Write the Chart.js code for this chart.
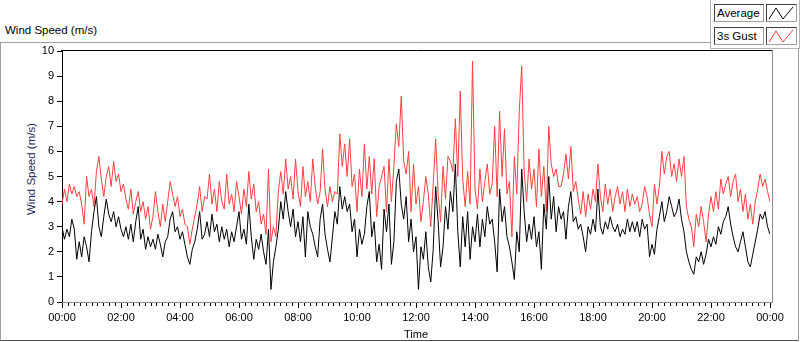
<!DOCTYPE html>
<html><head><meta charset="utf-8">
<script src="https://cdn.jsdelivr.net/npm/chart.js@4.4.1/dist/chart.umd.min.js"></script>
<style>
html,body{margin:0;padding:0;background:#fff;width:800px;height:342px;overflow:hidden;font-family:"Liberation Sans",Arial,sans-serif;}
#frame{position:absolute;left:0;top:42px;width:797px;height:297px;border:1px solid #a0a0a0;border-bottom-color:#505050;}
#ttl{position:absolute;left:5px;top:24px;font-size:11.5px;color:#000;white-space:nowrap;}
#ytitle{position:absolute;left:31px;top:169px;transform:translate(-50%,-50%) rotate(-90deg);font-size:11.5px;color:#1f2a5a;white-space:nowrap;}
#legend{position:absolute;left:710px;top:0;width:88px;height:48px;background:#fff;border-left:1px solid #b4b4b4;border-right:1px solid #b4b4b4;border-bottom:1px solid #b4b4b4;}
.lab{position:absolute;left:3px;width:46px;height:16px;border:1px solid #404040;border-right-color:#a0a0a0;border-bottom-color:#a0a0a0;font-size:11.5px;line-height:16px;padding-left:2px;color:#000;white-space:nowrap;}
.ico{position:absolute;left:55px;width:29px;height:16px;border:1px solid #404040;border-right-color:#a0a0a0;border-bottom-color:#a0a0a0;background:#fff;}
.ico svg{position:absolute;left:0;top:0;}
#c{position:absolute;left:0;top:0;}
</style>
</head><body>
<div id="frame"></div>
<div id="ttl">Wind Speed (m/s)</div>
<div id="ytitle">Wind Speed (m/s)</div>
<canvas id="c" width="800" height="342"></canvas>
<div id="legend">
  <div class="lab" style="top:4px">Average</div>
  <div class="ico" style="top:4px"><svg width="29" height="16"><polyline points="2,14 9,3 16,14 26,2" fill="none" stroke="#000" stroke-width="1"/></svg></div>
  <div class="lab" style="top:27px">3s Gust</div>
  <div class="ico" style="top:27px"><svg width="29" height="16"><polyline points="2,14 9,3 16,14 26,2" fill="none" stroke="#ff4040" stroke-width="1"/></svg></div>
</div>
<script>
// sampling interval of the series (minutes)
const sampleMinutes = 5;
const seriesNames = ["Average", "3s Gust"];
const xTickLabels = ["00:00","02:00","04:00","06:00","08:00","10:00","12:00","14:00","16:00","18:00","20:00","22:00","00:00"];
const yTickValues = [0,1,2,3,4,5,6,7,8,9,10];

// Average wind speed (m/s), 00:00 -> 24:00, every 5 minutes
const avgSpeed = [
 3.0,2.5,2.9,2.6,3.3,2.9,1.7,2.4,1.8,2.6, 2.2,1.6,2.8,3.6,4.2,3.0,2.6,3.4,4.1,3.5,
 3.2,3.6,3.0,3.4,2.9,2.6,3.0,2.5,3.1,2.4, 3.2,3.8,2.5,2.9,2.1,2.6,2.2,2.5,2.1,2.7,
 2.3,1.8,2.4,2.6,3.3,3.6,2.8,3.0,2.5,2.8, 2.3,1.8,1.5,2.1,2.4,2.9,3.6,2.5,2.7,
 3.2,2.6,3.5,2.8,3.1,2.4,3.0,2.5,2.9,2.2, 2.8,2.4,3.0,3.6,2.5,2.9,2.3,3.9,2.6,1.7,
 2.5,2.1,2.7,2.0,1.5,2.9,0.5,1.6,2.2,2.9, 4.0,3.3,4.4,3.6,3.0,3.7,2.6,3.2,2.4,3.4,
 1.8,3.6,3.0,2.7,2.2,1.8,3.3,3.9,2.7,2.1, 1.6,2.6,3.6,3.1,4.6,3.7,4.2,3.6,
 3.9,2.8,3.3,1.8,2.9,2.3,2.7,3.8,4.4,2.6, 3.2,1.6,2.3,1.3,3.7,2.8,3.9,1.5,2.4,4.8,
 5.3,3.9,3.3,4.2,2.4,3.3,2.0,2.6,0.5,2.2, 1.7,2.8,1.4,0.8,2.1,4.6,3.2,1.4,2.2,3.8,
 2.9,4.4,3.6,5.5,2.8,1.4,3.4,2.2,3.6,1.7, 3.0,2.4,3.5,2.2,3.3,2.6,3.8,3.1,
 3.3,2.4,1.2,4.5,3.2,3.8,2.6,2.2,1.6,0.9, 2.8,2.0,5.3,3.6,2.4,3.1,2.5,3.4,2.2,2.8,
 1.3,3.9,2.9,5.0,3.3,4.2,2.8,3.8,3.3,3.6, 2.5,3.8,4.4,3.2,3.4,2.9,3.1,2.6,2.0,3.0,
 2.7,3.3,2.8,4.5,3.0,2.7,3.2,2.9,3.4,3.0, 2.8,3.1,2.6,2.9,2.7,3.3,2.8,3.2,
 2.8,3.2,2.6,3.3,2.9,3.1,1.8,2.3,1.9,2.9, 3.4,4.0,3.2,3.6,4.2,3.8,3.4,3.6,4.1,3.3,
 2.8,2.0,1.6,1.3,1.1,1.8,1.6,2.0,1.5,1.9, 2.5,2.2,2.6,2.3,3.0,2.7,3.2,3.4,3.8,3.1,
 2.6,2.2,2.0,2.4,2.8,2.2,1.6,1.4,1.9,2.4, 2.9,3.5,3.3,3.6,3.0,2.7
];

// 3 s gust (m/s), same timestamps
const gustSpeed = [
 3.9,4.5,4.0,4.7,4.3,4.6,4.2,4.4,3.9,3.1, 5.0,4.2,4.5,3.8,5.2,5.8,4.9,4.2,5.0,5.4,
 4.6,5.6,4.8,5.1,4.4,4.7,4.1,3.7,4.5,3.5, 4.0,4.4,3.6,4.0,3.3,3.8,2.9,3.4,4.4,3.6,
 3.0,3.9,3.2,4.0,4.8,4.3,3.8,4.2,3.4,3.7, 3.1,3.0,2.3,2.9,3.4,3.9,4.6,3.6,4.2,
 4.1,5.1,3.9,4.5,3.6,4.8,4.0,3.7,5.1,3.9, 4.3,3.6,4.8,4.2,3.5,4.5,3.8,5.2,4.1,4.7,
 3.6,4.0,3.1,3.5,2.7,5.3,2.4,3.0,2.6,4.4, 5.2,4.3,5.7,4.5,5.0,4.1,5.7,4.4,3.8,5.4,
 4.2,4.8,4.0,5.7,4.6,3.9,4.4,6.1,4.5,3.8, 4.6,4.0,4.4,4.3,6.7,5.4,6.3,5.0,
 6.5,4.6,5.1,3.6,5.3,4.2,6.3,4.5,5.8,4.3, 5.7,3.4,4.6,5.0,5.4,3.6,5.7,4.0,5.4,7.1,
 6.2,8.2,5.6,5.1,6.0,3.6,5.5,3.9,4.6,3.2, 4.0,5.0,4.3,3.0,4.7,6.5,4.3,3.2,5.4,4.1,
 5.8,5.6,5.2,7.3,5.0,8.4,4.9,3.8,5.2,3.9, 9.6,4.5,3.7,5.3,4.0,4.8,5.5,4.3,
 4.7,7.0,4.2,7.6,5.0,6.9,4.3,4.8,2.6,5.8, 4.3,7.6,9.4,5.2,4.0,5.7,4.5,5.3,3.8,6.1,
 4.2,5.4,3.6,7.0,5.5,5.0,5.3,4.6,4.6,5.1, 5.9,4.9,6.2,4.4,4.8,4.1,3.5,4.4,3.4,4.3,
 3.7,4.5,4.0,5.5,4.2,3.6,4.7,3.9,4.5,3.6, 4.2,4.6,3.9,4.4,3.6,4.5,3.8,4.3,
 3.9,4.2,3.6,3.9,4.6,4.2,3.5,3.0,4.7,3.9, 4.6,6.0,5.1,5.8,6.0,5.0,5.5,4.8,5.7,5.0,
 5.8,3.8,3.3,3.0,2.2,3.5,3.0,3.8,3.2,2.4, 3.5,4.2,3.6,4.4,3.7,4.9,4.3,4.7,5.0,4.2,
 4.8,5.1,4.0,4.5,3.6,4.3,3.3,3.9,3.1,4.0, 4.5,5.1,4.6,4.9,4.4,4.0
];

const toXY = arr => arr.map((v, i) => ({x: i * sampleMinutes, y: v}));

const framePlugin = {
  id: 'lvframe',
  afterDraw(chart) {
    const {ctx, chartArea: {left, right, top, bottom}, scales: {x}} = chart;
    ctx.save();
    ctx.lineWidth = 1;
    ctx.strokeStyle = '#000';
    ctx.beginPath(); ctx.moveTo(left - 1, top - 0.5); ctx.lineTo(right + 2, top - 0.5); ctx.stroke();
    ctx.strokeStyle = '#8c8c8c';
    ctx.beginPath(); ctx.moveTo(right + 2.5, top - 1); ctx.lineTo(right + 2.5, bottom + 1); ctx.stroke();
    ctx.beginPath(); ctx.moveTo(left, bottom + 0.5); ctx.lineTo(right + 2, bottom + 0.5); ctx.stroke();
    // minor ticks every 12 minutes
    ctx.strokeStyle = '#000';
    ctx.beginPath();
    for (let m = 0; m <= 1440; m += 12) {
      if (m % 120 === 0) continue;
      const px = Math.round(x.getPixelForValue(m)) + 0.5;
      ctx.moveTo(px, bottom + 1); ctx.lineTo(px, bottom + 4);
    }
    ctx.stroke();
    ctx.restore();
  }
};

new Chart(document.getElementById('c'), {
  type: 'line',
  data: {
    datasets: [
      {label: seriesNames[0], data: toXY(avgSpeed), borderColor: '#000000', borderWidth: 1, pointRadius: 0, tension: 0, fill: false},
      {label: seriesNames[1], data: toXY(gustSpeed), borderColor: '#ff4040', borderWidth: 1, pointRadius: 0, tension: 0, fill: false}
    ]
  },
  options: {
    responsive: false,
    animation: false,
    devicePixelRatio: 1,
    layout: {padding: {left: 0, top: 51, right: 30, bottom: 0}},
    plugins: {legend: {display: false}, tooltip: {enabled: false}},
    scales: {
      x: {
        type: 'linear', min: 0, max: 1440,
        afterFit: s => { s.height = 40; },
        afterBuildTicks: s => { s.ticks = xTickLabels.map((_, i) => ({value: i * 120})); },
        ticks: {
          autoSkip: false, maxRotation: 0, padding: 3, color: '#000',
          font: {family: '"Liberation Sans", Arial, sans-serif', size: 11},
          callback: v => xTickLabels[Math.round(v / 120)]
        },
        grid: {drawOnChartArea: false, tickLength: 6, tickColor: '#000'},
        border: {display: false},
        title: {display: true, text: 'Time', color: '#000', padding: {top: 0, bottom: 0},
          font: {family: '"Liberation Sans", Arial, sans-serif', size: 11}}
      },
      y: {
        min: 0, max: 10,
        afterFit: s => { s.width = 62; },
        afterBuildTicks: s => { s.ticks = yTickValues.map(v => ({value: v})); },
        ticks: {
          padding: 3, color: '#000',
          font: {family: '"Liberation Sans", Arial, sans-serif', size: 11}
        },
        grid: {drawOnChartArea: false, tickLength: 5, tickColor: '#000'},
        border: {display: true, color: '#000', width: 1}
      }
    }
  },
  plugins: [framePlugin]
});
</script>
</body></html>
